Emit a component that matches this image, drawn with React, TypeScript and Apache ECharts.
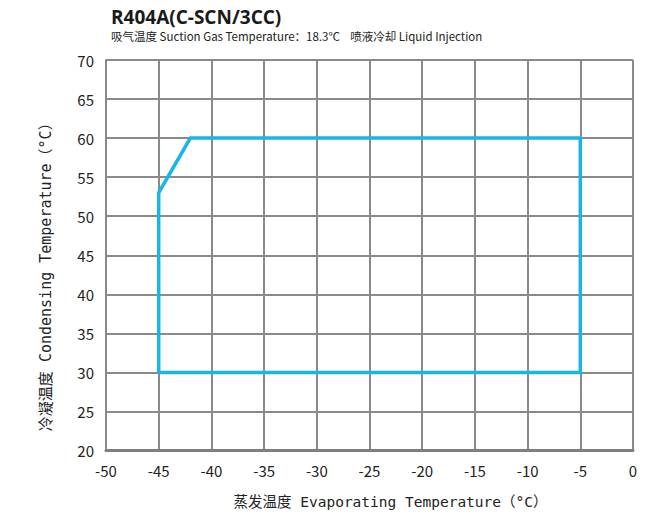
import React, { useEffect, useRef } from "react";
import * as echarts from "echarts";

const envelopeX = [-45, -45, -42, -5, -5, -45];
const envelopeY = [30, 53, 60, 60, 30, 30];
const titleText = "R404A(C-SCN/3CC)";
const subText = "吸气温度 Suction Gas Temperature：18.3℃    喷液冷却 Liquid Injection";
const xName = "蒸发温度 Evaporating Temperature（°C）";
const yName = "冷凝温度 Condensing Temperature（°C）";

export default function App() {
  const ref = useRef<HTMLDivElement>(null);
  useEffect(() => {
    const chart = echarts.init(ref.current!, null, { renderer: "svg" });
    const data = envelopeX.map((x, i) => [x, envelopeY[i]]);
    const gridLine = { show: true, lineStyle: { color: "#8a8a8a", width: 2 } };
    chart.setOption({
      animation: false,
      backgroundColor: "#fff",
      title: {
        text: titleText,
        subtext: subText,
        left: 106,
        top: 2,
        itemGap: 4,
        textStyle: { fontFamily: "'Open Sans', 'Noto Sans', sans-serif", fontWeight: "bold", fontSize: 19, color: "#1a1a1a" },
        subtextStyle: { fontFamily: "'Noto Sans CJK SC', sans-serif", fontSize: 11.5, color: "#222" },
      },
      grid: { left: 106, right: 35, top: 60, bottom: 62, containLabel: false },
      xAxis: {
        type: "value",
        min: -50,
        max: 0,
        interval: 5,
        name: xName,
        nameLocation: "middle",
        nameGap: 44,
        nameTextStyle: { fontFamily: "'DejaVu Sans Mono', 'Noto Sans CJK SC', monospace", fontSize: 14.5, color: "#222", padding: [0, 0, 0, 42] },
        axisLine: { show: true, onZero: false, lineStyle: { color: "#7f7f7f", width: 3 } },
        axisTick: { show: false },
        axisLabel: { fontFamily: "'Noto Sans CJK SC', 'Noto Sans', sans-serif", fontSize: 15, color: "#222", margin: 12 },
        splitLine: gridLine,
      },
      yAxis: {
        type: "value",
        min: 20,
        max: 70,
        interval: 5,
        name: yName,
        nameLocation: "middle",
        nameGap: 53,
        nameTextStyle: { fontFamily: "'DejaVu Sans Mono', 'Noto Sans CJK SC', monospace", fontSize: 15, color: "#222", padding: [0, 36, 0, 0] },
        axisLine: { show: true, onZero: false, lineStyle: { color: "#8a8a8a", width: 2 } },
        axisTick: { show: false },
        axisLabel: { fontFamily: "'Noto Sans CJK SC', 'Noto Sans', sans-serif", fontSize: 15, color: "#222", margin: 12 },
        splitLine: gridLine,
      },
      series: [
        {
          type: "line",
          data,
          showSymbol: false,
          symbol: "none",
          lineStyle: { color: "#19b4ea", width: 3.5, join: "miter" },
          silent: true,
        },
      ],
    });
    return () => chart.dispose();
  }, []);
  return <div ref={ref} style={{ width: 668, height: 514, position: "absolute", left: 0, top: 0 }} />;
}
